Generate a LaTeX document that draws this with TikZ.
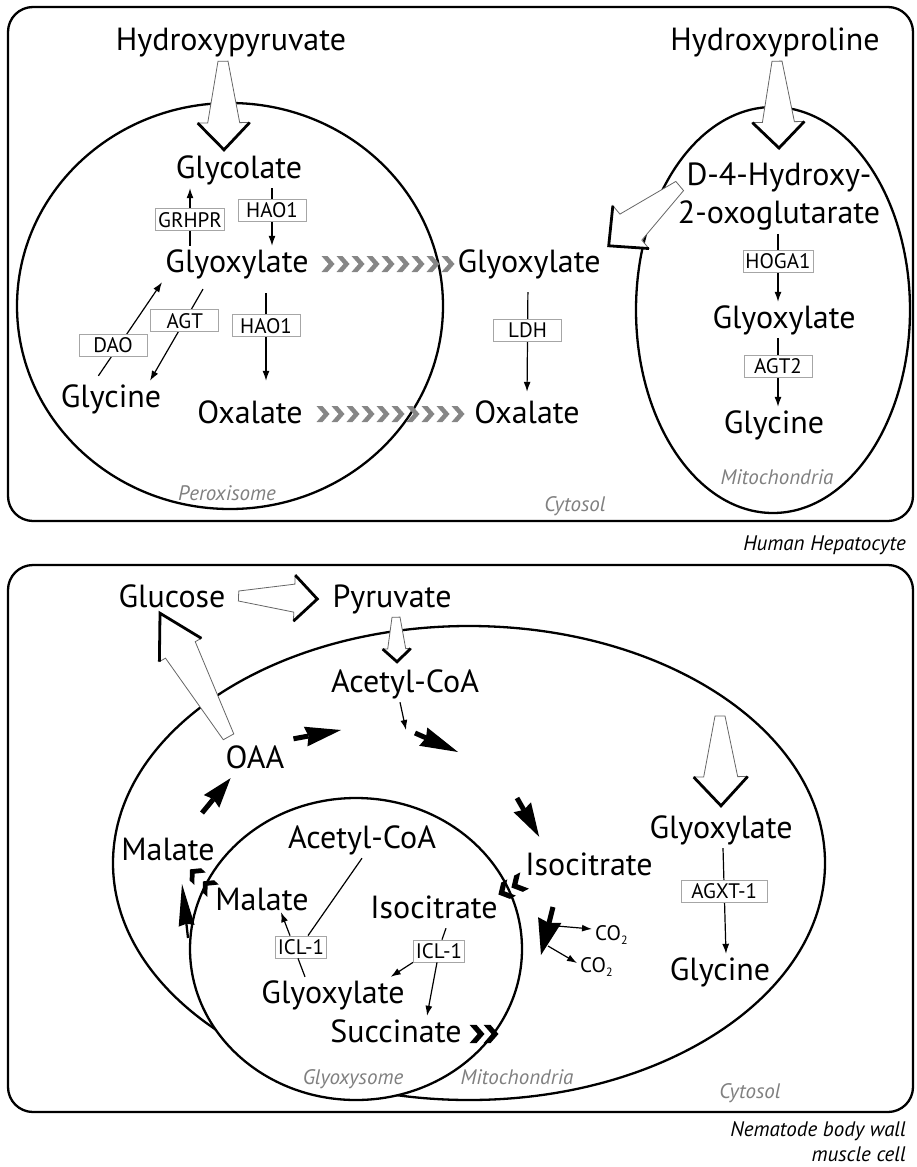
\documentclass[tikz,border=0pt]{standalone}
\usepackage{fontspec}
\setmainfont{PT Sans}
\usetikzlibrary{arrows.meta}
\usetikzlibrary{calc}

\newcommand{\metfont}{\fontsize{32}{38}\selectfont}
\newcommand{\enzfont}{\fontsize{21}{24}\selectfont}
\newcommand{\compfont}{\fontsize{21}{25}\selectfont\itshape}

\tikzstyle{met} = [font=\metfont, text height=23pt, text depth=7pt, inner sep=3pt]
\tikzstyle{enz} = [draw=gray!70, fill=white, line width=0.8pt, font=\enzfont, inner sep=2.5pt, minimum height=22pt]
\tikzstyle{enzw} = [enz, minimum width=68pt]
\tikzstyle{rxn} = [line width=1.2pt, -{Latex[length=10pt, width=7pt]}]
\tikzstyle{link} = [line width=1.2pt]
\tikzstyle{organelle} = [line width=2.3pt]
\tikzstyle{cell} = [line width=2.3pt, rounded corners=25pt]
\tikzstyle{comp} = [font=\compfont, text=gray]
\tikzstyle{celllabel} = [font=\compfont, align=right, inner sep=1pt]

\tikzset{chev/.pic={\fill (-6.5,-8) -- (-0.5,-8) -- (6.5,0) -- (-0.5,8) -- (-6.5,8) -- (0.5,0) -- cycle;}}

% open block arrow: from, to, tail half width, shaft half width, head half width, head length
\newcommand{\openarr}[6]{%
  \coordinate (oaT) at #1;
  \coordinate (oaH) at #2;
  \coordinate (oaB) at ($(oaH)!#6!(oaT)$);
  \filldraw[fill=white, draw=gray!80!black, line width=0.8pt]
    ($(oaT)!#3!90:(oaH)$) -- ($(oaB)!#4!90:(oaH)$) -- ($(oaB)!#5!90:(oaH)$) -- (oaH)
    -- ($(oaB)!#5!-90:(oaH)$) -- ($(oaB)!#4!-90:(oaH)$) -- ($(oaT)!#3!-90:(oaH)$) -- cycle;
  \draw[line width=2.8pt, line join=miter]
    ($(oaB)!#5!90:(oaH)$) -- (oaH) -- ($(oaB)!#5!-90:(oaH)$);
}

% black cycle arrow: from, to, stub width, head length, head half width, inset
\newcommand{\cycarr}[6]{%
  \coordinate (caS) at #1;
  \coordinate (caH) at #2;
  \coordinate (caB) at ($(caH)!#4!(caS)$);
  \coordinate (caI) at ($(caB)!#6!(caH)$);
  \draw[line width=#3] (caS) -- (caI);
  \fill (caH) -- ($(caB)!#5!90:(caH)$) -- (caI) -- ($(caB)!#5!-90:(caH)$) -- cycle;
}

\begin{document}
\begin{tikzpicture}[x=1pt, y=-1pt]
\useasboundingbox (0,0) rectangle (916,1167);

% human hepatocyte
\draw[cell] (8,7) rectangle (913,521);
\draw[organelle] (230,306) ellipse [x radius=213pt, y radius=203pt];
\draw[organelle] (773,310) ellipse [x radius=137pt, y radius=203pt];

\node[met] (hpyr) at (231,42) {Hydroxypyruvate};
\node[met] (hpro) at (775,42) {Hydroxyproline};
\node[met] (glc) at (239,170) {Glycolate};
\node[met] (gxp) at (237,264) {Glyoxylate};
\node[met] (gxc) at (529,264) {Glyoxylate};
\node[font=\metfont, align=center, inner sep=3pt] (hog) at (779,197) {D-4-Hydroxy-\\2-oxoglutarate};
\node[met] (gxm) at (784,320) {Glyoxylate};
\node[met] (gym) at (774,425) {Glycine};
\node[met] (gyp) at (111,399) {Glycine};
\node[met] (oxp) at (250,415) {Oxalate};
\node[met] (oxc) at (527,415) {Oxalate};

\openarr{([xshift=-8pt,yshift=-1pt]hpyr.south)}{([xshift=-15pt,yshift=2pt]glc.north)}{5pt}{16pt}{26pt}{27pt}
\openarr{([xshift=2pt,yshift=-1pt]hpro.south)}{([yshift=12pt]hog.north)}{5pt}{16pt}{26pt}{26pt}
\openarr{([xshift=5pt,yshift=11pt]hog.west)}{([xshift=5pt]gxc.north east)}{6pt}{17pt}{28pt}{29pt}

\draw[rxn] ([xshift=-47pt]gxp.north) -- node[enzw, pos=0.45]{GRHPR} ([xshift=-49pt]glc.south);
\draw[rxn] ([xshift=33pt]glc.south) -- node[enzw, pos=0.38]{HAO1} ([xshift=35pt]gxp.north);
\draw[rxn, shorten <=11pt, shorten >=16pt] ([xshift=29pt]gxp.south) -- node[enzw, pos=0.38]{HAO1} ([xshift=16pt]oxp.north);
\draw[rxn, shorten <=8pt] ([xshift=-30pt]gxp.south) -- node[enzw, pos=0.39]{AGT} ([xshift=39pt]gyp.north);
\draw[rxn, shorten <=6pt] ([xshift=-16pt]gyp.north) -- node[enzw, pos=0.36, xshift=-6pt]{DAO} ([xshift=-75pt]gxp.south);
\draw[rxn, shorten <=10pt, shorten >=5pt] ([xshift=-1pt]gxc.south) -- node[enzw, pos=0.42]{LDH} (oxc.north);
\draw[rxn] ([xshift=-1pt]hog.south) -- node[enzw, pos=0.4]{HOGA1} ([xshift=-6pt]gxm.north);
\draw[rxn] ([xshift=-6pt]gxm.south) -- node[enzw, pos=0.41]{AGT2} ([xshift=4pt]gym.north);

% export to cytosol
\foreach \i in {0,...,8} \pic[color=gray!95] at ({328+15*\i},264) {chev};
\foreach \i in {0,...,9} \pic[color=gray!95] at ({323+15*\i},414) {chev};

\node[comp] (perlab) at (227,493) {Peroxisome};
\node[comp] (cytlab) at (575,506) {Cytosol};
\node[comp] (mitlab) at (777,477) {Mitochondria};
\node[celllabel, anchor=east] (heplab) at (907,545) {Human Hepatocyte};

% nematode muscle cell
\draw[cell] (8,565) rectangle (913,1112);
\draw[organelle] (469,863) ellipse [x radius=356pt, y radius=237pt];
\draw[organelle, fill=white] (356,949) ellipse [x radius=166pt, y radius=151pt];

\node[met] (glu) at (172,599) {Glucose};
\node[met] (pyr) at (392,599) {Pyruvate};
\node[met] (acm) at (405,684) {Acetyl-CoA};
\node[met] (oaa) at (255,760) {OAA};
\node[met] (malm) at (168,852) {Malate};
\node[met] (ism) at (589,867) {Isocitrate};
\node[met] (acg) at (362,840) {Acetyl-CoA};
\node[met] (malg) at (262,902) {Malate};
\node[met] (isg) at (434,910) {Isocitrate};
\node[met] (gxg) at (333,995) {Glyoxylate};
\node[met] (suc) at (396,1034) {Succinate};
\node[met] (gxn) at (721,830) {Glyoxylate};
\node[met] (gyn) at (720,972) {Glycine};
\node[font=\enzfont, anchor=west, inner sep=3pt] (co2a) at (592,935) {CO\raisebox{-4pt}{\fontsize{12}{13}\selectfont 2}};
\node[font=\enzfont, anchor=west, inner sep=3pt] (co2b) at (577,967) {CO\raisebox{-4pt}{\fontsize{12}{13}\selectfont 2}};

\openarr{([xshift=10pt,yshift=3pt]glu.east)}{([xshift=-12pt]pyr.west)}{5pt}{14pt}{23pt}{23pt}
\openarr{([xshift=6pt,yshift=5pt]oaa.north west)}{([xshift=-12pt,yshift=4pt]glu.south)}{6pt}{17pt}{24pt}{42pt}
\openarr{([xshift=4pt]pyr.south)}{([xshift=-8pt,yshift=4pt]acm.north)}{4pt}{9pt}{14pt}{13pt}
\coordinate (gxsrc) at (720,716);
\openarr{(gxsrc)}{([yshift=6pt]gxn.north)}{5pt}{17pt}{27pt}{29pt}

% cycle
\coordinate (c1) at (202,813);
\coordinate (c2) at (341,730);
\coordinate (c3) at (406,730);
\coordinate (c4s) at (415,733);
\coordinate (c4e) at (458,752);
\coordinate (c5) at (517,798);
\coordinate (c6s) at (553,907);
\coordinate (c6e) at (541,955);
\coordinate (c6a) at (557,926);
\coordinate (c6b) at (548,946);
\coordinate (c7s) at (188,938);
\coordinate (c7e) at (182,884);
\cycarr{(c1)}{([xshift=8pt]oaa.south west)}{5pt}{30pt}{10pt}{3pt}
\cycarr{([xshift=6pt,yshift=3pt]oaa.north east)}{(c2)}{5pt}{36pt}{10pt}{3pt}
\draw[rxn] ([xshift=-5pt]acm.south) -- (c3);
\cycarr{(c4s)}{(c4e)}{5pt}{38pt}{10pt}{3pt}
\cycarr{(c5)}{([xshift=17pt,yshift=12pt]ism.north west)}{5pt}{34pt}{10pt}{3pt}
\cycarr{(c6s)}{(c6e)}{5pt}{36pt}{12pt}{3pt}
\draw[rxn] (c6a) -- ([yshift=6pt]co2a.west);
\draw[rxn] (c6b) -- ([yshift=4pt]co2b.west);
\cycarr{(c7s)}{(c7e)}{2.3pt}{42pt}{8pt}{2pt}

% glyoxylate shunt
\node[enz] (icl1) at (301,947) {ICL-1};
\node[enz] (icl2) at (439,951) {ICL-1};
\draw[link] (acg.south) -- ([xshift=7pt]icl1.north);
\draw[rxn] ([xshift=-11pt]icl1.north) -- ([xshift=19pt,yshift=8pt]malg.south);
\draw[link] ([xshift=-28pt]gxg.north) -- ([xshift=-3pt]icl1.south);
\draw[link] ([xshift=12pt]isg.south) -- ([xshift=3pt]icl2.north);
\draw[rxn] (icl2.south west) -- ([xshift=-17pt]gxg.north east);
\draw[rxn] ([xshift=-2pt]icl2.south) -- ([xshift=31pt]suc.north);
\draw[rxn] ([xshift=2pt]gxn.south) -- node[enz, pos=0.41, minimum width=86pt]{AGXT-1} ([xshift=6pt]gyn.north);

% transport across membranes
\pic[scale=1.15] at (477,1034) {chev};
\pic[scale=1.15] at (491,1034) {chev};
\pic[scale=1.15, rotate=208] at (505,891) {chev};
\pic[scale=1.15, rotate=208] at (518,884) {chev};
\pic[scale=1.05, rotate=137] at (195,874) {chev};
\pic[scale=1.05, rotate=137] at (208,886) {chev};

\node[comp] (glylab) at (353,1079) {Glyoxysome};
\node[comp] (mit2lab) at (517,1077) {Mitochondria};
\node[comp] (cyt2lab) at (750,1093) {Cytosol};
\node[celllabel, anchor=east] (nemlab) at (907,1142) {Nematode body wall\\muscle cell};
\end{tikzpicture}
\end{document}
